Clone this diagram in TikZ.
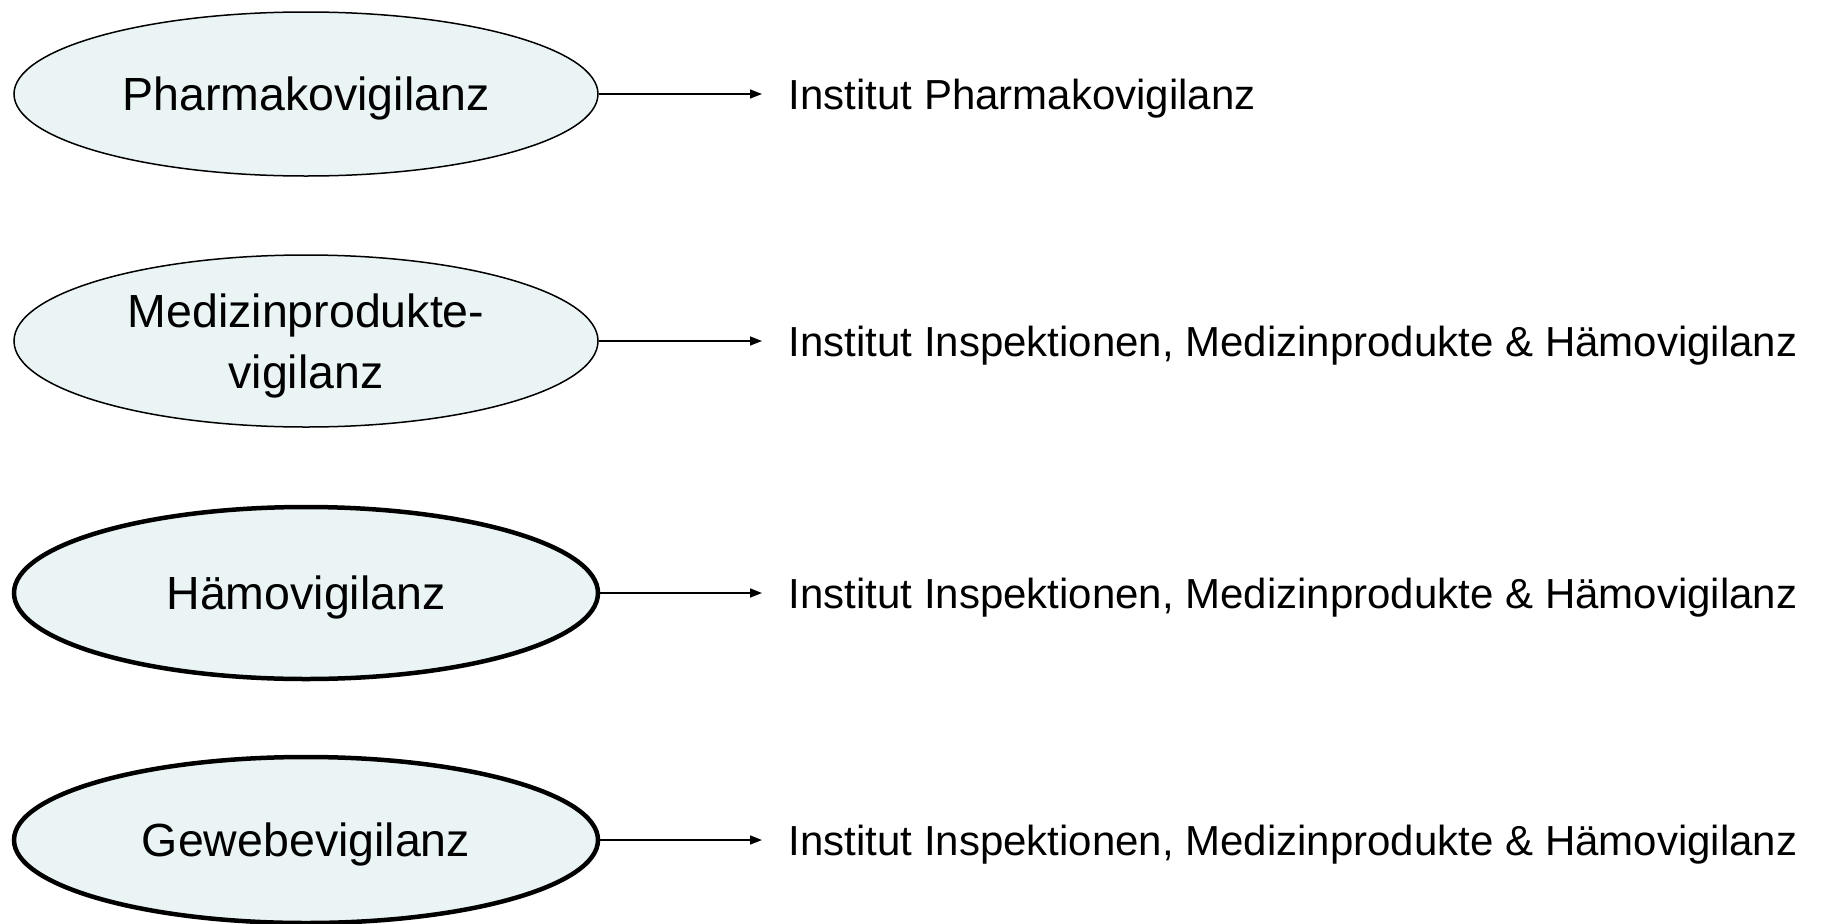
\documentclass[tikz,border=0pt]{standalone}
\usepackage{fontspec}
\setmainfont{Liberation Sans}
\usetikzlibrary{arrows.meta,shapes.geometric}
\definecolor{vigfill}{RGB}{234,244,245}

\begin{document}
\begin{tikzpicture}[x=1pt, y=-1pt, >={Triangle[length=12pt,width=9pt]}, line width=1.5pt,
	vig/.style={ellipse, draw, fill=vigfill, minimum width=584pt, minimum height=172pt,
		inner sep=0pt, align=center, text depth=0pt, font=\fontsize{46.5}{61}\selectfont},
	vigbold/.style={vig, line width=4.5pt},
	inst/.style={anchor=west, inner sep=0pt, text depth=0pt, font=\fontsize{42}{50}\selectfont}]
				\useasboundingbox (0,0) rectangle (1832,924);
				\coordinate (Cphar)  at (306,94);
				\coordinate (Cmed)   at (306,341);
				\coordinate (Chaem)  at (306,593);
				\coordinate (Cgew)   at (306,840);
				\node[vig, minimum height=164pt] (phar) at (Cphar) {Pharmakovigilanz};
				\node[vig] (med) at (Cmed) {Medizinprodukte-\\vigilanz};
				\node[vigbold] (haem) at (Chaem) {Hämovigilanz};
				\node[vigbold, minimum height=166pt] (gew) at (Cgew) {Gewebevigilanz};
				\node[inst] (iphar) at (788,94)  {Institut Pharmakovigilanz};
				\node[inst] (imed)  at (788,341) {Institut Inspektionen, Medizinprodukte \& Hämovigilanz};
				\node[inst] (ihaem) at (788,593) {Institut Inspektionen, Medizinprodukte \& Hämovigilanz};
				\node[inst] (igew)  at (788,840) {Institut Inspektionen, Medizinprodukte \& Hämovigilanz};
				\draw[->, shorten >=26pt] (phar.east) -- (iphar.west);
				\draw[->, shorten >=26pt] (med.east)  -- (imed.west);
				\draw[->, shorten >=26pt] (haem.east) -- (ihaem.west);
				\draw[->, shorten >=26pt] (gew.east)  -- (igew.west);
		\end{tikzpicture}
\end{document}
